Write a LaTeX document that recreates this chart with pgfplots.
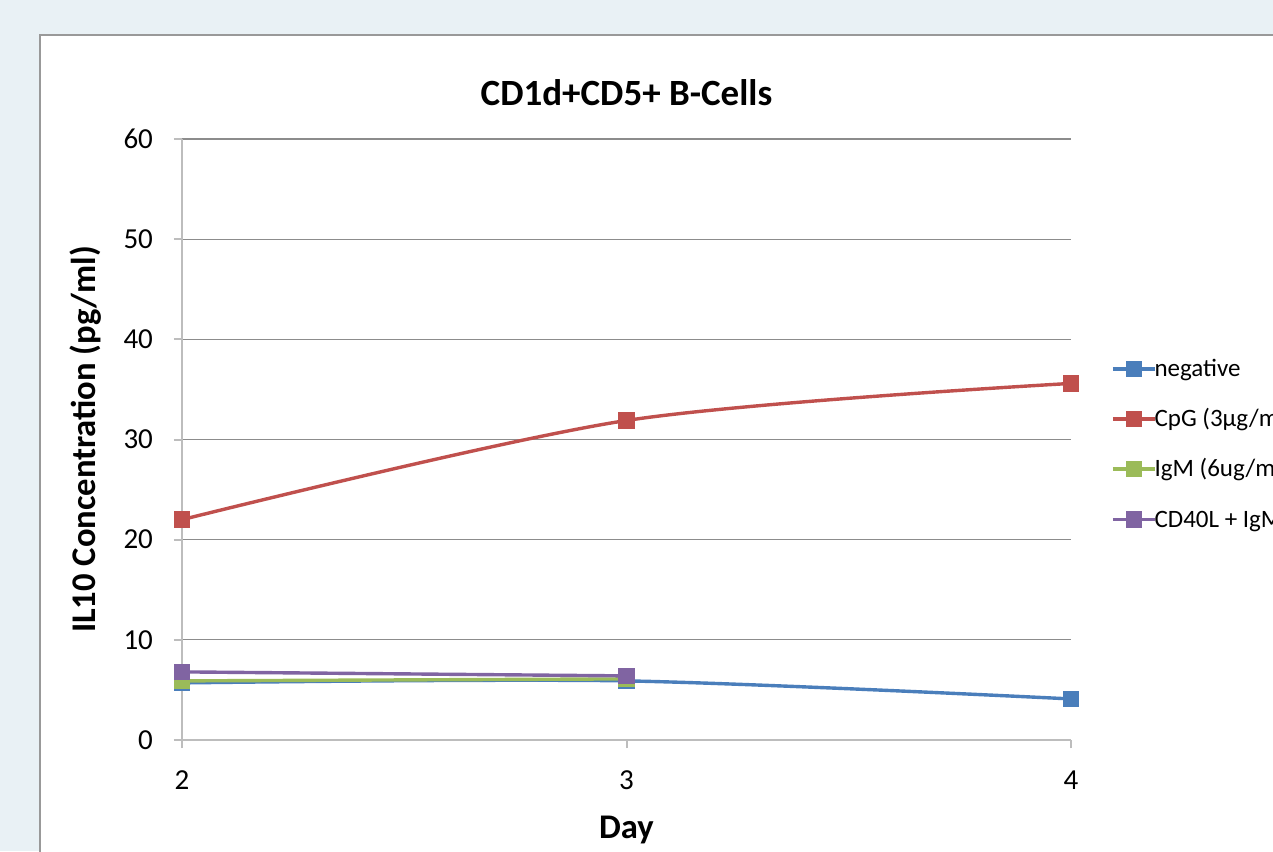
\documentclass[border=0pt]{standalone}
\usepackage{fontspec}
\setmainfont{Carlito}
\usepackage{pgfplots}
\pgfplotsset{compat=1.18}
\definecolor{bgc}{HTML}{E9F1F5}
\definecolor{cblue}{HTML}{4A7EBB}
\definecolor{cred}{HTML}{C0504D}
\definecolor{cgreen}{HTML}{9BBB59}
\definecolor{cpurple}{HTML}{8064A2}
\definecolor{gridc}{HTML}{8C8C8C}
\definecolor{axc}{HTML}{BDBDBD}
\begin{document}
\begin{tikzpicture}
\useasboundingbox (0,0) rectangle (636.5pt,425.5pt);
\fill[bgc] (0,0) rectangle (636.5pt,425.5pt);
\fill[white] (20pt,-5pt) rectangle (650pt,408pt);
\draw[gray!80, line width=1pt] (20pt,-5pt) -- (20pt,408pt) -- (650pt,408pt);
\begin{axis}[
  at={(91pt,55.5pt)}, anchor=south west,
  scale only axis, width=444.5pt, height=300.5pt,
  xmin=2, xmax=4, ymin=0, ymax=60,
  xtick={2,3,4}, ytick={0,10,20,30,40,50,60},
  axis x line=bottom, axis y line=left,
  axis line style={-, axc, line width=1.2pt},
  ymajorgrids, grid style={gridc, line width=0.6pt},
  tick align=outside, major tick length=4pt,
  tick style={axc, line width=1pt},
  xtick style={axc},
  ticklabel style={font=\fontsize{14.5}{17}\selectfont},
  /pgf/number format/assume math mode=true,
  yticklabel style={xshift=-7pt},
  xticklabel style={yshift=-8pt},
  title={\bfseries CD1d+CD5+ B-Cells},
  title style={font=\fontsize{18.5}{22}\selectfont, yshift=7pt},
  xlabel={\bfseries Day},
  ylabel={\bfseries IL10 Concentration (pg/ml)},
  label style={font=\fontsize{17.3}{20}\selectfont},
  ylabel style={yshift=4pt},
  xlabel style={yshift=-6pt},
  clip=false,
  every axis plot/.append style={line width=1.7pt, mark=square*, mark size=3.3pt, smooth},
  legend style={at={(1.038,0.648)}, anchor=north west, draw=none, fill=none,
    font=\fontsize{12.5}{15}\selectfont, row sep=10.5pt,
    /tikz/every even column/.append style={column sep=0pt}},
  legend cell align=left,
  legend image code/.code={
    \draw[#1, mark repeat=2, mark phase=2] plot coordinates {(0pt,0pt) (10.5pt,0pt) (21pt,0pt)};
  },
]
\addplot[color=cblue, mark options={fill=cblue}] coordinates {(2,5.7) (3,5.9) (4,4.1)};
\addlegendentry{\hspace{-3pt}negative}
\addplot[color=cred, mark options={fill=cred}] coordinates {(2,22.0) (3,31.9) (4,35.6)};
\addlegendentry{\hspace{-3pt}CpG (3µg/ml)}
\addplot[color=cgreen, mark options={fill=cgreen}] coordinates {(2,5.9) (3,6.1)};
\addlegendentry{\hspace{-3pt}IgM (6ug/ml)}
\addplot[color=cpurple, mark options={fill=cpurple}] coordinates {(2,6.8) (3,6.4)};
\addlegendentry{\hspace{-3pt}CD40L + IgM (5ug/ml)}
\end{axis}
\end{tikzpicture}
\end{document}
